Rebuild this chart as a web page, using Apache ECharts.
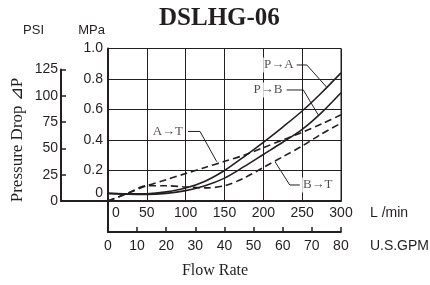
<!DOCTYPE html>
<html>
<head>
<meta charset="utf-8">
<script src="https://cdn.jsdelivr.net/npm/echarts@6/dist/echarts.min.js"></script>
<style>html,body{margin:0;padding:0;background:#fff}#chart{width:430px;height:285px}</style>
</head>
<body>
<div id="chart"></div>
<script>
// flow rate (L/min) and pressure drop (MPa)
var flowLmin = [0, 25, 50, 75, 100, 125, 150, 175, 200, 225, 250, 275, 300];
var pToA = [0.05, 0.047, 0.048, 0.06, 0.085, 0.13, 0.20, 0.29, 0.385, 0.485, 0.59, 0.71, 0.84];
var pToB = [0.05, 0.045, 0.043, 0.05, 0.068, 0.10, 0.15, 0.225, 0.305, 0.385, 0.47, 0.58, 0.71];
var aToT = [0, 0.05, 0.10, 0.14, 0.18, 0.22, 0.26, 0.30, 0.35, 0.40, 0.45, 0.505, 0.565];
var bToT = [0, 0.05, 0.10, 0.10, 0.092, 0.086, 0.10, 0.15, 0.22, 0.29, 0.36, 0.44, 0.51];

// curve tags and their leader lines, in data units [L/min, MPa]
var tagNames = ['P→A', 'P→B', 'A→T', 'B→T'];
var tagPos = [[220, 0.892], [206, 0.728], [77, 0.456], [270, 0.105]];
var leaderPaths = [
    [[243, 0.892], [256, 0.892], [281.6, 0.746]],
    [[230, 0.728], [251.5, 0.728], [270.8, 0.564]],
    [[103, 0.456], [118.5, 0.456], [140, 0.258]],
    [[247, 0.105], [234, 0.105], [215, 0.258]]
];

var MPA_TO_PSI = 145.04;
var ink = '#231f20';
var sans = 'Liberation Sans', serif = 'Liberation Serif';

var G = {left: 108, right: 89, top: 48.5, bottom: 84};
var plotH = 285 - G.top - G.bottom;
var psiH = plotH * 125 / MPA_TO_PSI;

function curve(name, vals, dashed){
    return {
        name: name, type: 'line', xAxisIndex: 0, yAxisIndex: 0,
        data: flowLmin.map(function(f, i){ return [f, vals[i]]; }),
        smooth: 0.3, symbol: 'none',
        lineStyle: {color: ink, width: 1.6, type: dashed ? [7, 4] : 'solid'},
        z: 3, silent: true
    };
}

var chart = echarts.init(document.getElementById('chart'));
var option = {
    animation: false,
    title: [
        {text: 'DSLHG-06', left: 154, top: 1,
         textStyle: {fontFamily: serif, fontWeight: 'bold', fontSize: 25, color: ink}},
        {text: 'Flow Rate', left: 'center', top: 258,
         textStyle: {fontFamily: serif, fontWeight: 'normal', fontSize: 16, color: ink}}
    ],
    grid: [
        {left: G.left, right: G.right, top: G.top, bottom: G.bottom, show: true, borderColor: ink, borderWidth: 1},
        {left: G.left, right: G.right, top: 285 - G.bottom, height: 31},
        {left: 61, width: G.left - 61, bottom: G.bottom, height: psiH}
    ],
    xAxis: [
        {
            gridIndex: 0, type: 'value', min: 0, max: 300, interval: 50,
            axisLine: {show: true, lineStyle: {color: ink, width: 2}},
            axisTick: {show: false},
            splitLine: {show: true, lineStyle: {color: ink, width: 1}},
            axisLabel: {
                color: ink, fontFamily: sans, fontSize: 14, margin: 5,
                formatter: function(v){ return v === 0 ? '{z|0}' : v; },
                rich: {z: {fontFamily: sans, fontSize: 14, color: ink, padding: [0, 0, 0, 16]}}
            },
            name: 'L /min', nameLocation: 'end', nameGap: 29,
            nameTextStyle: {color: ink, fontFamily: sans, fontSize: 14, verticalAlign: 'top', padding: [5, 0, 0, 0]}
        },
        {
            gridIndex: 1, type: 'value', min: 0, max: 80, interval: 10,
            axisLine: {show: true, lineStyle: {color: ink, width: 2}},
            axisTick: {show: true, inside: true, length: 5, lineStyle: {color: ink, width: 1.5}},
            splitLine: {show: false},
            axisLabel: {color: ink, fontFamily: sans, fontSize: 14, margin: 7},
            name: 'U.S.GPM', nameLocation: 'end', nameGap: 29,
            nameTextStyle: {color: ink, fontFamily: sans, fontSize: 14, verticalAlign: 'top', padding: [7, 0, 0, 0]}
        },
        {
            gridIndex: 2, type: 'value', min: 0, max: 1,
            axisLine: {show: true, lineStyle: {color: ink, width: 2}},
            axisTick: {show: false}, axisLabel: {show: false}, splitLine: {show: false}
        }
    ],
    yAxis: [
        {
            gridIndex: 0, type: 'value', min: 0, max: 1, interval: 0.2,
            axisLine: {show: true, lineStyle: {color: ink, width: 2}},
            axisTick: {show: false},
            splitLine: {show: true, lineStyle: {color: ink, width: 1}},
            axisLabel: {
                color: ink, fontFamily: sans, fontSize: 14, margin: 5,
                formatter: function(v){ return v === 0 ? '{z|0}' : v.toFixed(1); },
                rich: {z: {fontFamily: sans, fontSize: 14, color: ink, padding: [0, 0, 16, 0]}}
            },
            name: 'MPa', nameLocation: 'end', nameGap: 12,
            nameTextStyle: {color: ink, fontFamily: sans, fontSize: 13, align: 'right', padding: [0, 3, 0, 0]}
        },
        {
            gridIndex: 1, type: 'value', min: 0, max: 1,
            axisLine: {show: true, lineStyle: {color: ink, width: 2}},
            axisTick: {show: false}, axisLabel: {show: false}, splitLine: {show: false}
        },
        {
            gridIndex: 2, type: 'value', min: 0, max: 125, interval: 25,
            axisLine: {show: true, lineStyle: {color: ink, width: 2}},
            axisTick: {show: true, inside: true, length: 5, lineStyle: {color: ink, width: 1.5}},
            splitLine: {show: false},
            axisLabel: {color: ink, fontFamily: sans, fontSize: 14, margin: 3},
            name: 'PSI', nameLocation: 'end', nameGap: 33,
            nameTextStyle: {color: ink, fontFamily: sans, fontSize: 13, align: 'right', padding: [0, 17, 0, 0]}
        }
    ],
    graphic: [
        {type: 'text', rotation: Math.PI / 2, x: 18, y: 140,
         style: {text: 'Pressure Drop ⊿P', font: '17px "Liberation Serif"', fill: ink, align: 'center', verticalAlign: 'middle'}}
    ],
    series: [
        curve('P→A', pToA, false),
        curve('P→B', pToB, false),
        curve('A→T', aToT, true),
        curve('B→T', bToT, true),
        {
            type: 'lines', coordinateSystem: 'cartesian2d', xAxisIndex: 0, yAxisIndex: 0,
            polyline: true, symbol: ['none', 'arrow'], symbolSize: 8,
            lineStyle: {color: ink, width: 1, opacity: 1},
            data: leaderPaths.map(function(p){ return {coords: p}; }),
            z: 4, silent: true
        },
        {
            type: 'scatter', xAxisIndex: 0, yAxisIndex: 0, symbolSize: 1,
            itemStyle: {color: 'rgba(0,0,0,0)'},
            data: tagNames.map(function(t, i){ return {name: t, value: tagPos[i]}; }),
            label: {show: true, position: 'inside', formatter: '{b}', color: ink,
                    fontFamily: serif, fontSize: 13, backgroundColor: '#fff', padding: [1, 1]},
            z: 5, silent: true
        }
    ]
};
chart.setOption(option);
</script>
</body>
</html>
